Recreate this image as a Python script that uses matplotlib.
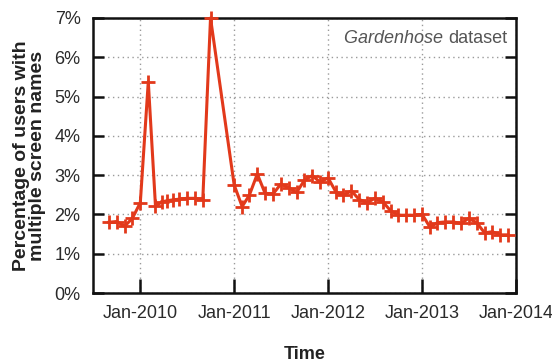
import matplotlib
matplotlib.use("Agg")
import matplotlib.pyplot as plt
import matplotlib.dates as mdates
from matplotlib.ticker import FuncFormatter
import pandas as pd

# Share of users with multiple screen names, Gardenhose sample
dates = [
    "2009-09-01", "2009-10-01", "2009-11-01", "2009-12-01", "2010-01-01",
    "2010-02-01", "2010-03-01", "2010-03-26", "2010-04-16", "2010-05-07",
    "2010-06-02", "2010-07-01", "2010-08-02", "2010-09-01", "2010-10-01",
    "2011-01-01", "2011-02-01", "2011-03-01", "2011-04-01", "2011-05-01",
    "2011-06-01", "2011-07-01", "2011-08-01", "2011-09-01", "2011-10-01",
    "2011-11-01", "2011-12-01", "2012-01-01", "2012-02-01", "2012-03-01",
    "2012-04-01", "2012-05-01", "2012-06-01", "2012-07-01", "2012-08-01",
    "2012-09-01", "2012-10-01", "2012-11-01", "2012-12-01", "2013-01-01",
    "2013-02-01", "2013-03-01", "2013-04-01", "2013-05-01", "2013-06-01",
    "2013-07-01", "2013-08-01", "2013-09-01", "2013-10-01", "2013-11-01",
    "2013-12-01",
]
pct_multi = [
    1.80, 1.82, 1.70, 1.90, 2.30,
    5.38, 2.21, 2.32, 2.35, 2.37,
    2.39, 2.41, 2.41, 2.38, 7.00,
    2.75, 2.20, 2.49, 3.03, 2.54,
    2.52, 2.77, 2.68, 2.56, 2.87,
    2.99, 2.82, 2.93, 2.57, 2.49,
    2.60, 2.38, 2.30, 2.41, 2.32,
    2.09, 1.98, 1.98, 1.98, 2.00,
    1.67, 1.79, 1.81, 1.81, 1.77,
    1.90, 1.79, 1.53, 1.56, 1.48,
    1.48,
]
year_ticks = ["2010-01-01", "2011-01-01", "2012-01-01", "2013-01-01", "2014-01-01"]
y_ticks = [0, 1, 2, 3, 4, 5, 6, 7]

plt.rcParams["font.family"] = ["Liberation Sans", "DejaVu Sans"]

fig = plt.figure(figsize=(5.52, 3.62), dpi=100)
ax = fig.add_axes([93 / 552, 1 - 293 / 362, (516 - 93) / 552, (293 - 18) / 362])

x = pd.to_datetime(dates)
ax.plot(x, pct_multi, color="#e2391b", lw=2.2, marker="+", ms=10, mew=2.0,
        clip_on=False, zorder=3)

ax.set_xlim(pd.Timestamp("2009-07-01"), pd.Timestamp("2014-01-01"))
ax.set_ylim(0, 7)
ax.set_yticks(y_ticks)
ax.yaxis.set_major_formatter(FuncFormatter(lambda v, _: f"{int(v)}%"))
ax.set_xticks(pd.to_datetime(year_ticks))
ax.xaxis.set_major_formatter(mdates.DateFormatter("%b-%Y"))

ax.grid(True, color="#9a9a9a", linestyle=(0, (1, 2.5)), linewidth=1.0)
ax.set_axisbelow(True)
for sp in ax.spines.values():
    sp.set_linewidth(1.8)
    sp.set_color("#111111")

ax.tick_params(axis="y", direction="in", length=8, width=1.8, left=True,
               right=True, labelsize=13, pad=9, colors="#111111",
               labelcolor="#2a2a2a")
ax.tick_params(axis="x", direction="in", length=10, width=1.8, bottom=True,
               top=False, labelsize=13, pad=9, colors="#111111",
               labelcolor="#2a2a2a")

ax.set_xlabel("Time", fontsize=13, fontweight="bold", color="#222222",
              labelpad=17)
ax.set_ylabel("Percentage of users with\nmultiple screen names", fontsize=14,
              fontweight="bold", color="#222222", linespacing=0.95,
              labelpad=6)

# Annotation: italic dataset name followed by plain "dataset"
t_plain = ax.text(0.979, 0.925, "dataset", transform=ax.transAxes, ha="right",
                  va="center", fontsize=13, color="#555555")
ax.annotate("Gardenhose ", xy=(0, 0.5), xycoords=t_plain, ha="right",
            va="center", fontsize=13, color="#555555", style="italic")

fig.savefig("out.png", dpi=100)
